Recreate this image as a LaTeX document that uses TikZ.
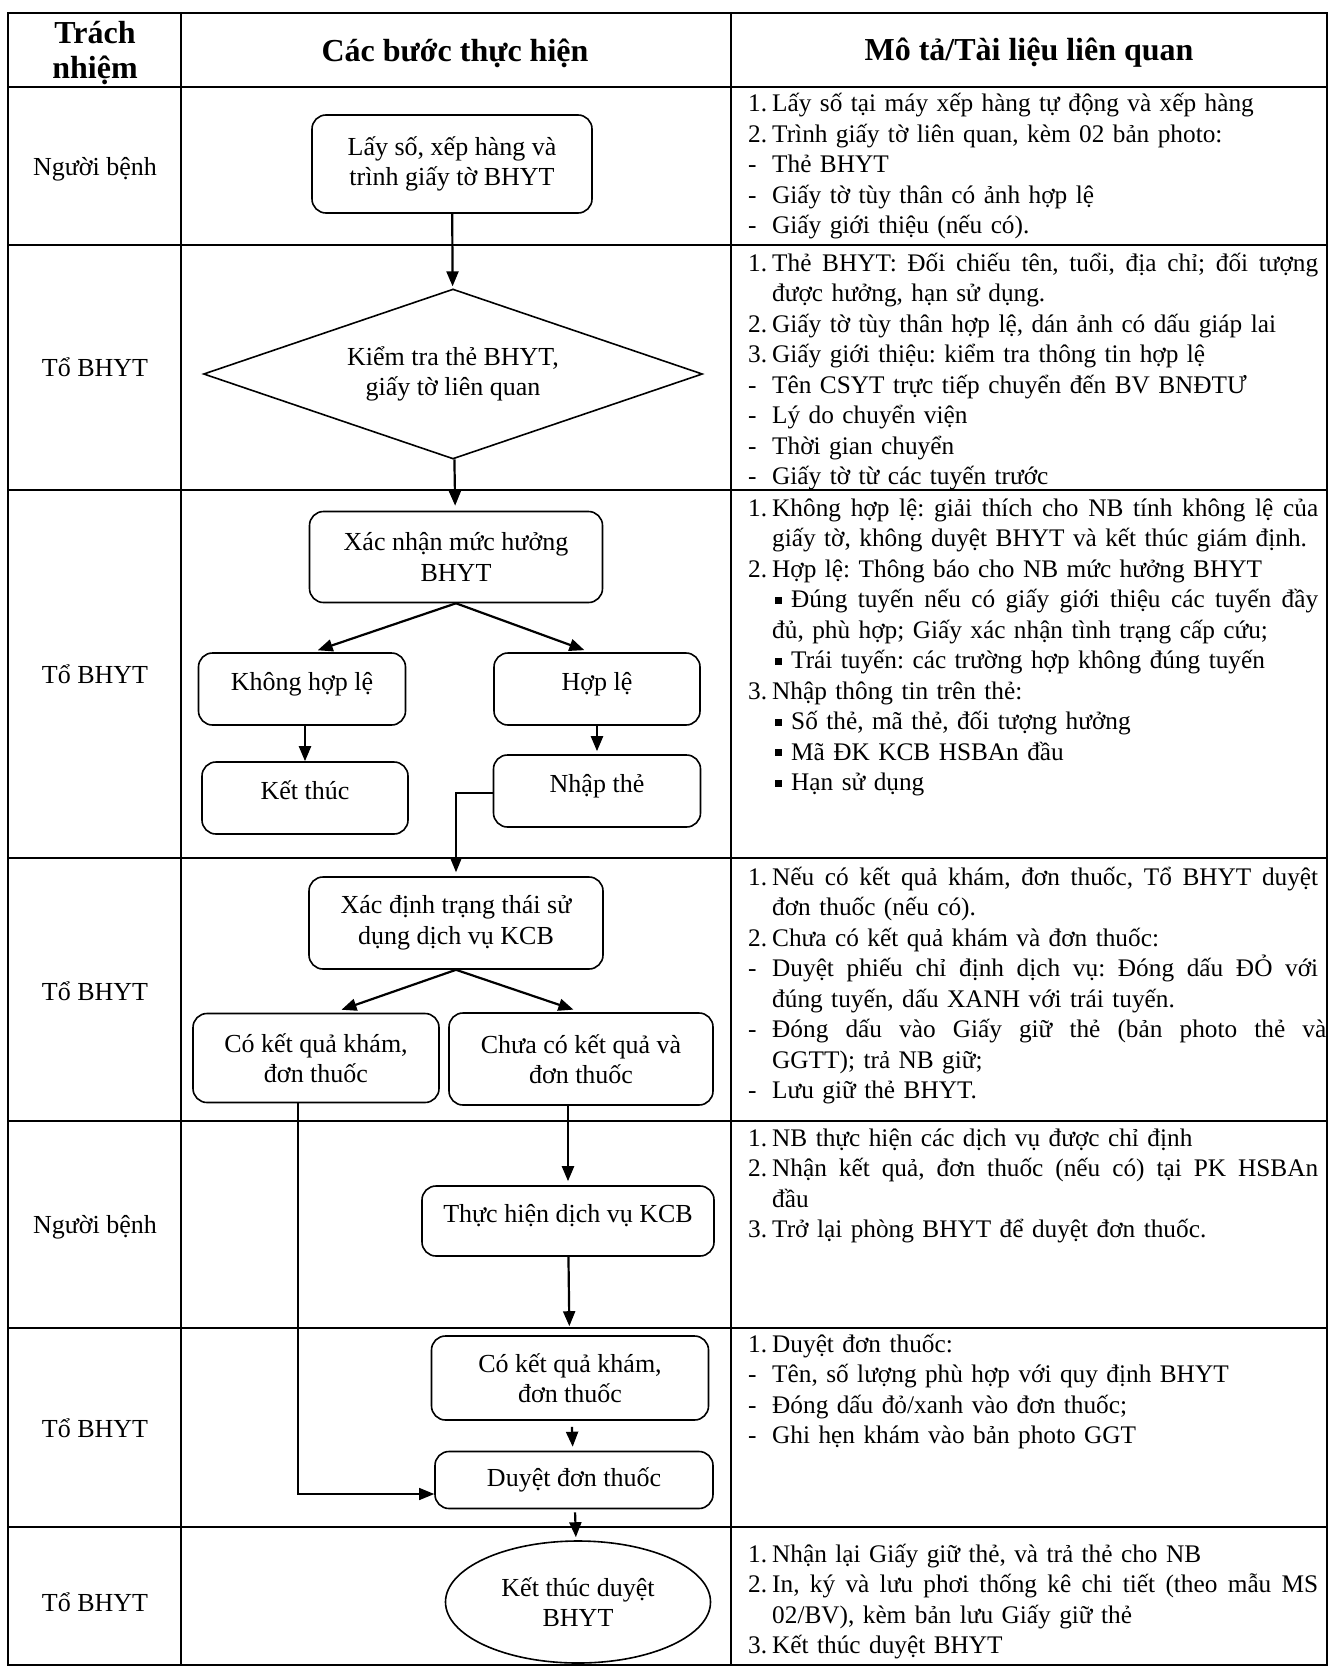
\documentclass[tikz,border=0pt]{standalone}
\usepackage{fontspec}
\setmainfont{Liberation Serif}
\usepackage{tikz}
\usetikzlibrary{shapes.geometric,arrows.meta}
\newcommand{\bodyfont}{\fontsize{26pt}{30.5pt}\selectfont}
\newcommand{\notefont}{\fontsize{25.3pt}{30.5pt}\selectfont\frenchspacing}
\newcommand{\headfont}{\fontsize{32pt}{35pt}\selectfont\bfseries}
\newcommand{\nr}[1]{\makebox[24pt][l]{#1}}
\newcommand{\ds}{\makebox[24pt][l]{-}}
\newcommand{\ind}{\hspace*{24pt}}
\newcommand{\bl}{\hspace*{27pt}\makebox[16pt][l]{\rule[4pt]{7pt}{7pt}}}
\newcommand{\js}[2]{\leavevmode\hbox to #1{\spaceskip=\fontdimen2\font plus 3\fontdimen2\font minus \fontdimen4\font\relax #2}}
\setlength{\lineskiplimit}{-100pt}
\pgfdeclarelayer{edgelayer}
\pgfdeclarelayer{nodelayer}
\pgfsetlayers{edgelayer,nodelayer,main}
\tikzstyle{none}=[inner sep=0pt]
\tikzstyle{stepbox}=[rectangle,rounded corners=14pt,draw=black,line width=1.6,align=center,inner sep=0pt,font=\bodyfont]
\tikzstyle{raised}=[text depth=16pt]
\tikzstyle{check}=[diamond,aspect=2.9,draw=black,line width=1.6,align=center,inner sep=0pt,font=\bodyfont]
\tikzstyle{terminal}=[ellipse,draw=black,line width=1.6,align=center,inner sep=0pt,font=\bodyfont]
\tikzstyle{role}=[inner sep=0pt,align=center,font=\bodyfont]
\tikzstyle{head}=[inner sep=0pt,align=center,font=\headfont]
\tikzstyle{note}=[anchor=base west,inner sep=0pt,text width=590,align=left,font=\notefont]
\tikzstyle{flow}=[-{Triangle[length=15pt,width=12pt]},line width=2.2]
\tikzstyle{link}=[-{Triangle[length=15pt,width=12pt]},line width=1.3]
\tikzstyle{grid}=[-,line width=2.6]

\begin{document}
\begin{tikzpicture}[x=1pt,y=-1pt]
	\useasboundingbox (0,0) rectangle (1334,1667);
	\begin{pgfonlayer}{nodelayer}
		% header
		\node [style=head] (hresp) at (95, 53) {Trách\\nhiệm};
		\node [style=head] (hsteps) at (455, 53) {Các bước thực hiện};
		\node [style=head] (hdesc) at (1029, 53) {Mô tả/Tài liệu liên quan};

		\node [style=role] (r1) at (95, 169) {Người bệnh};
		\node [style=role] (r2) at (95, 367) {Tổ BHYT};
		\node [style=role] (r3) at (95, 674) {Tổ BHYT};
		\node [style=role] (r4) at (95, 991) {Tổ BHYT};
		\node [style=role] (r5) at (95, 1227) {Người bệnh};
		\node [style=role] (r6) at (95, 1428) {Tổ BHYT};
		\node [style=role] (r7) at (95, 1602) {Tổ BHYT};

		\node [style=stepbox, minimum width=280, minimum height=98] (take) at (452, 164) {Lấy số, xếp hàng và\\trình giấy tờ BHYT};
		\node [style=check, minimum width=499, minimum height=170] (verify) at (453, 374) {Kiểm tra thẻ BHYT,\\giấy tờ liên quan};
		\node [style=stepbox, minimum width=293, minimum height=91] (level) at (456, 557) {Xác nhận mức hưởng\\BHYT};
		\node [style=stepbox, style=raised, minimum width=207, minimum height=72] (invalid) at (302, 689) {Không hợp lệ};
		\node [style=stepbox, style=raised, minimum width=206, minimum height=72] (valid) at (597, 689) {Hợp lệ};
		\node [style=stepbox, style=raised, minimum width=206, minimum height=72] (stop) at (305, 798) {Kết thúc};
		\node [style=stepbox, style=raised, minimum width=207, minimum height=72] (enter) at (597, 791) {Nhập thẻ};
		\node [style=stepbox, minimum width=294, minimum height=92] (status) at (456, 923) {Xác định trạng thái sử\\dụng dịch vụ KCB};
		\node [style=stepbox, minimum width=246, minimum height=89] (hasres) at (316, 1058) {Có kết quả khám,\\đơn thuốc};
		\node [style=stepbox, minimum width=264, minimum height=92] (nores) at (581, 1059) {Chưa có kết quả và\\đơn thuốc};
		\node [style=stepbox, style=raised, minimum width=292, minimum height=70] (service) at (568, 1221) {Thực hiện dịch vụ KCB};
		\node [style=stepbox, minimum width=277, minimum height=84] (result) at (570, 1378) {Có kết quả khám,\\đơn thuốc};
		\node [style=stepbox, minimum width=278, minimum height=57] (approve) at (574, 1480) {Duyệt đơn thuốc};
		\node [style=terminal, minimum width=265, minimum height=122] (finish) at (578, 1602) {Kết thúc duyệt\\BHYT};

		% descriptions
		\node [style=note] (d1) at (748, 112) {\nr{1.}Lấy số tại máy xếp hàng tự động và xếp hàng\\
			\nr{2.}Trình giấy tờ liên quan, kèm 02 bản photo:\\
			\ds Thẻ BHYT\\
			\ds Giấy tờ tùy thân có ảnh hợp lệ\\
			\ds Giấy giới thiệu (nếu có).};
		\node [style=note] (d2) at (748, 271) {\nr{1.}\js{546pt}{Thẻ BHYT: Đối chiếu tên, tuổi, địa chỉ; đối tượng}\\
			\ind được hưởng, hạn sử dụng.\\
			\nr{2.}Giấy tờ tùy thân hợp lệ, dán ảnh có dấu giáp lai\\
			\nr{3.}Giấy giới thiệu: kiểm tra thông tin hợp lệ\\
			\ds Tên CSYT trực tiếp chuyển đến BV BNĐTƯ\\
			\ds Lý do chuyển viện\\
			\ds Thời gian chuyển\\
			\ds Giấy tờ từ các tuyến trước};
		\node [style=note] (d3) at (748, 516) {\nr{1.}\js{546pt}{Không hợp lệ: giải thích cho NB tính không lệ của}\\
			\ind giấy tờ, không duyệt BHYT và kết thúc giám định.\\
			\nr{2.}Hợp lệ: Thông báo cho NB mức hưởng BHYT\\
			\bl\js{527pt}{Đúng tuyến nếu có giấy giới thiệu các tuyến đầy}\\
			\ind đủ, phù hợp; Giấy xác nhận tình trạng cấp cứu;\\
			\bl Trái tuyến: các trường hợp không đúng tuyến\\
			\nr{3.}Nhập thông tin trên thẻ:\\
			\bl Số thẻ, mã thẻ, đối tượng hưởng\\
			\bl Mã ĐK KCB HSBAn đầu\\
			\bl Hạn sử dụng};
		\node [style=note] (d4) at (748, 885) {\nr{1.}\js{546pt}{Nếu có kết quả khám, đơn thuốc, Tổ BHYT duyệt}\\
			\ind đơn thuốc (nếu có).\\
			\nr{2.}Chưa có kết quả khám và đơn thuốc:\\
			\ds\js{546pt}{Duyệt phiếu chỉ định dịch vụ: Đóng dấu ĐỎ với}\\
			\ind đúng tuyến, dấu XANH với trái tuyến.\\
			\ds\js{554pt}{Đóng dấu vào Giấy giữ thẻ (bản photo thẻ và}\\
			\ind GGTT); trả NB giữ;\\
			\ds Lưu giữ thẻ BHYT.};
		\node [style=note] (d5) at (748, 1146) {\nr{1.}NB thực hiện các dịch vụ được chỉ định\\
			\nr{2.}\js{546pt}{Nhận kết quả, đơn thuốc (nếu có) tại PK HSBAn}\\
			\ind đầu\\
			\nr{3.}Trở lại phòng BHYT để duyệt đơn thuốc.};
		\node [style=note] (d6) at (748, 1352) {\nr{1.}Duyệt đơn thuốc:\\
			\ds Tên, số lượng phù hợp với quy định BHYT\\
			\ds Đóng dấu đỏ/xanh vào đơn thuốc;\\
			\ds Ghi hẹn khám vào bản photo GGT};
		\node [style=note] (d7) at (748, 1562) {\nr{1.}Nhận lại Giấy giữ thẻ, và trả thẻ cho NB\\
			\nr{2.}\js{546pt}{In, ký và lưu phơi thống kê chi tiết (theo mẫu MS}\\
			\ind 02/BV), kèm bản lưu Giấy giữ thẻ\\
			\nr{3.}Kết thúc duyệt BHYT};
	\end{pgfonlayer}
	\begin{pgfonlayer}{edgelayer}
		% table
		\draw [style=grid] (8,13) rectangle (1327,1665);
		\draw [style=grid] (181,13) to (181,1665);
		\draw [style=grid] (731,13) to (731,1665);
		\draw [style=grid] (8,87) to (1327,87);
		\draw [style=grid] (8,245) to (1327,245);
		\draw [style=grid] (8,490) to (1327,490);
		\draw [style=grid] (8,858) to (1327,858);
		\draw [style=grid] (8,1121) to (1327,1121);
		\draw [style=grid] (8,1328) to (1327,1328);
		\draw [style=grid] (8,1527) to (1327,1527);

		\draw [style=flow, shorten >=2] (take) to (verify);
		\draw [style=flow, shorten >=5] (verify) to (level);
		\draw [style=flow, shorten >=6] (level.south) to ([xshift=10pt]invalid.north);
		\draw [style=flow, shorten >=6] (level.south) to ([xshift=-7pt]valid.north);
		\draw [style=flow] (invalid.south -| stop.north) to (stop.north);
		\draw [style=flow, shorten >=3] (valid) to (enter);
		\draw [style=link, shorten >=4] ([yshift=-2pt]enter.west) -| (status.north);
		\draw [style=flow, shorten >=9] (status.south) to ([xshift=17pt]hasres.north);
		\draw [style=flow, shorten >=8] (status.south) to (nores.north);
		\draw [style=flow, shorten >=4] (nores.south -| service.north) to (service.north);
		\draw [style=flow, shorten >=9] (service) to (result);
		\draw [style=flow, shorten <=6, shorten >=4] (result) to (approve);
		\draw [style=flow, shorten <=3, shorten >=3] (approve) to (finish);
		\draw [style=link] ([xshift=-18pt]hasres.south) |- ([yshift=-14pt]approve.west);
	\end{pgfonlayer}
\end{tikzpicture}
\end{document}
